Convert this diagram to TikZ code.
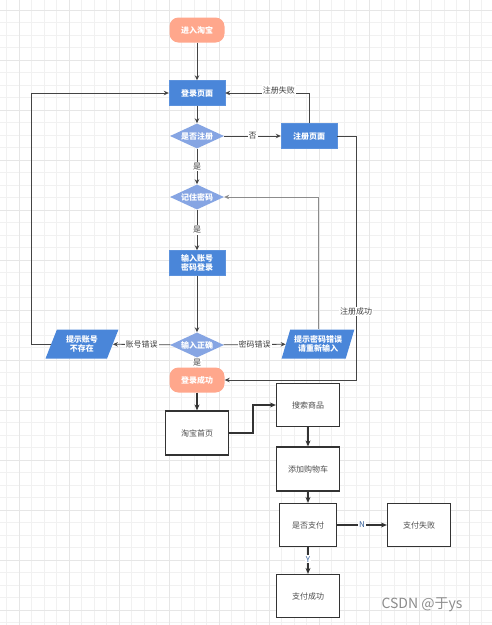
\documentclass[tikz,border=0pt]{standalone}
\usepackage{fontspec}
\newfontfamily\cjk{Noto Sans CJK SC}
\usetikzlibrary{shapes.geometric,arrows.meta,positioning}
\definecolor{tbsalmon}{RGB}{255,167,140}
\definecolor{tbblue}{RGB}{74,134,217}
\definecolor{tblight}{RGB}{134,165,227}
\definecolor{tbline}{RGB}{68,68,68}
\definecolor{tbgrid}{RGB}{241,241,241}
\definecolor{tbgridmajor}{RGB}{230,230,230}
\tikzset{
  term/.style = {fill=tbsalmon, rounded corners=9pt, minimum width=55pt, minimum height=25pt, text=white, font=\cjk\bfseries\fontsize{8}{9}\selectfont},
  proc/.style = {draw=tbblue!90!white, fill=tbblue, minimum width=56pt, minimum height=25pt, inner sep=1pt, align=center, text=white, font=\cjk\bfseries\fontsize{8}{9.5}\selectfont},
  dec/.style = {fill=tblight, diamond, aspect=2, minimum width=54pt, minimum height=25pt, inner sep=0pt, text=white, font=\cjk\bfseries\fontsize{8}{9}\selectfont},
  io/.style = {fill=tbblue, trapezium, trapezium left angle=68, trapezium right angle=112, trapezium stretches=true, minimum width=73pt, minimum height=29pt, inner sep=1pt, align=center, text=white, font=\cjk\bfseries\fontsize{8}{9.5}\selectfont},
  box/.style = {draw=black!80, line width=1.2pt, fill=white, minimum width=63pt, minimum height=44pt, text=black!70, font=\cjk\fontsize{8}{9}\selectfont},
  lbl/.style = {fill=white, inner sep=1pt, text=black!75, font=\cjk\fontsize{8}{9}\selectfont},
  arrow/.style = {draw=tbline, line width=0.8pt, -{Stealth[length=5pt,width=4.5pt]}},
  thickarrow/.style = {draw=black!80, line width=1.3pt, -{Stealth[length=6pt,width=5pt]}},
  gridline/.style = {draw=tbgrid, line width=0.8pt},
  gridmajor/.style = {draw=tbgridmajor, line width=1pt}
}
\begin{document}
\begin{tikzpicture}[x=1pt, y=-1pt]
  \useasboundingbox (0,0) rectangle (492,625);
  % background grid
  \fill[white] (0,0) rectangle (492,625);
  \foreach \gx in {6.5,19,...,492} \draw[gridline] (\gx,0) -- (\gx,625);
  \foreach \gy in {10,22.5,...,625} \draw[gridline] (0,\gy) -- (492,\gy);
  \foreach \gx in {19,69,...,492} \draw[gridmajor] (\gx,0) -- (\gx,625);
  \foreach \gy in {10,60,...,625} \draw[gridmajor] (0,\gy) -- (492,\gy);

  % login part
  \node[term] (start) at (197,30) {进入淘宝};
  \node[proc] (login) at (197,93) {登录页面};
  \node[dec] (isreg) at (197,136) {是否注册};
  \node[proc] (regpage) at (309,136) {注册页面};
  \node[dec] (remember) at (197,197) {记住密码};
  \node[proc] (input) at (197,263) {输入账号\\密码登录};
  \node[dec] (correct) at (197,345) {输入正确};
  \node[io] (noacct) at (82,344) {提示账号\\不存在};
  \node[io] (pwderr) at (318,344) {提示密码错误\\请重新输入};
  \node[term] (success) at (197,380) {登录成功};

  % shopping part
  \node[box] (home) at (197,433) {淘宝首页};
  \node[box, minimum height=43pt] (search) at (308,405) {搜索商品};
  \node[box] (cart) at (308,469) {添加购物车};
  \node[box, minimum width=57pt, minimum height=43pt] (pay) at (308,525) {是否支付};
  \node[box, minimum height=43pt] (fail) at (419,525) {支付失败};
  \node[box, minimum height=43pt] (paid) at (308,596) {支付成功};

  \node[text=black!45, font=\fontsize{14}{16}\selectfont\cjk] (wmark) at (422,605) {CSDN @于ys};

  \draw[arrow] (start) -- (login);
  \draw[arrow] (login) -- (isreg);
  \draw[arrow] (isreg) -- node[lbl] {否} (regpage);
  \draw[arrow] (regpage.north) |- node[lbl, pos=0.68, yshift=3pt] {注册失败} (login.east);
  \draw[arrow] (regpage.east) -- ++(19,0) |- node[lbl, pos=0.36] {注册成功} (success.east);
  \draw[arrow] (isreg) -- node[lbl] {是} (remember);
  \draw[arrow] (remember) -- node[lbl] {是} (input);
  \draw[arrow] (input) -- (correct);
  \draw[arrow] (correct) -- node[lbl] {账号错误} (noacct);
  \draw[arrow] (correct) -- node[lbl] {密码错误} (pwderr);
  \draw[arrow] (correct) -- node[lbl, inner sep=0.5pt] {是} (success);
  \draw[arrow] (noacct.west) -- ++(-20,0) |- (login.west);
  \draw[arrow, draw=black!45] (pwderr.north) |- (remember.east);

  \draw[thickarrow] (success) -- (home);
  \draw[thickarrow] (home.east) -- ++(24,0) |- (search.west);
  \draw[thickarrow] (search) -- (cart);
  \draw[thickarrow] (cart) -- (pay);
  \draw[thickarrow] (pay) -- node[lbl, text=tbblue!70!black] {N} (fail);
  \draw[thickarrow] (pay) -- node[lbl, text=tbblue!70!black, pos=0.45] {Y} (paid);
\end{tikzpicture}
\end{document}
